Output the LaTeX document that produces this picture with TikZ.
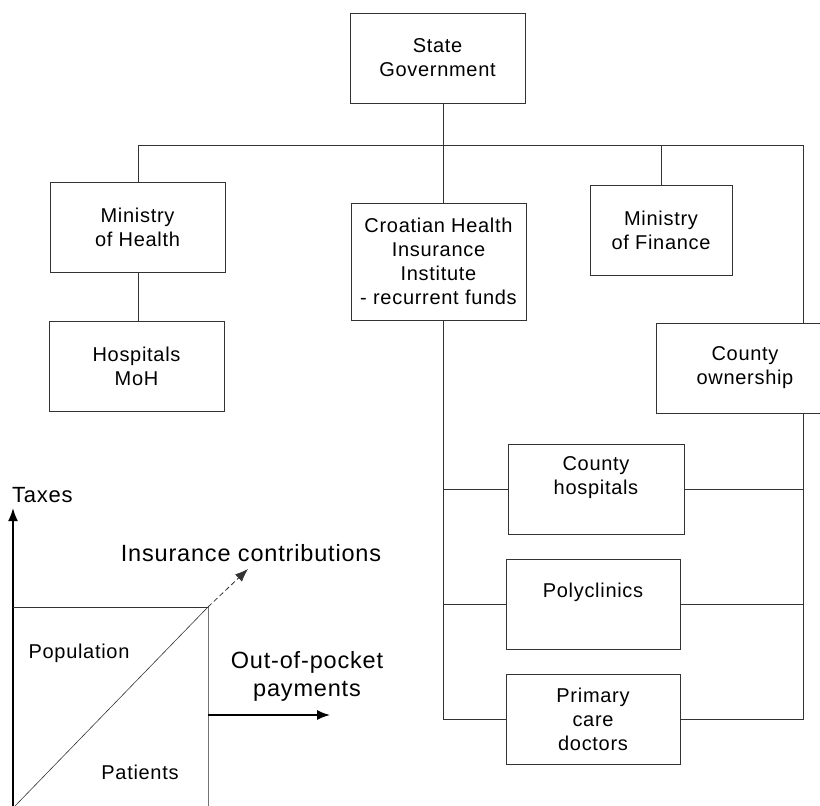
\documentclass[tikz,border=0pt]{standalone}
\usepackage{fontspec}
\setmainfont{Liberation Sans}[LetterSpace=3.5]
\usetikzlibrary{arrows.meta}

\tikzset{
  box/.style={draw=black!80, line width=0.8pt, minimum width=175pt, minimum height=90pt,
    align=center, inner sep=0pt, font=\fontsize{20}{24}\selectfont},
  lbl/.style={align=center, inner sep=0pt, font=\fontsize{20}{24}\selectfont},
  biglbl/.style={align=center, inner sep=0pt, font=\fontsize{23.5}{28}\selectfont},
  wire/.style={draw=black!80, line width=0.8pt},
}

\begin{document}
\begin{tikzpicture}[x=1pt, y=-1pt]
\useasboundingbox (0,0) rectangle (820,806);

\node[box] (gov) at (437.5,58) {State\\Government};
\node[box] (moh) at (137.5,227.5) {Ministry\\of Health};
\node[box] (hosp) at (136.5,366.5) {Hospitals\\MoH};
\node[box, minimum height=117pt] (chii) at (438.5,261.5) {Croatian Health\\Insurance\\Institute\\- recurrent funds};
\node[box, minimum width=142pt] (mof) at (661,230) {Ministry\\of Finance};
\node[box, minimum width=178pt] (cown) at (745,368) {County\\ownership};
\node[box, minimum width=176pt] (chosp) at (596,489) {};
\node[lbl, yshift=11pt] (chospT) at (chosp) {County\\hospitals};
\node[box, minimum width=174pt] (poly) at (593,604) {};
\node[lbl, yshift=12pt] (polyT) at (poly) {Polyclinics};
\node[box, minimum width=174pt] (pcd) at (593,719) {Primary\\care\\doctors};

\coordinate (busL) at (138,145);
\coordinate (busR) at (803,145);
\coordinate (trunk) at (443,145);

\draw[wire] (busL) -- (busR);
\draw[wire] (gov.south -| trunk) -- (chii.north -| trunk);
\draw[wire] (busL) -- (moh.north -| busL);
\draw[wire] (moh.south -| busL) -- (hosp.north -| busL);
\draw[wire] (mof.north) -- (mof.north |- busR);
\draw[wire] (busR) -- (cown.north -| busR);
\draw[wire] (cown.south -| busR) -- (busR |- pcd.east) -- (pcd.east);
\draw[wire] (chii.south -| trunk) -- (trunk |- pcd.west) -- (pcd.west);
\draw[wire] (chosp.west -| trunk) -- (chosp.west);
\draw[wire] (chosp.east) -- (chosp.east -| busR);
\draw[wire] (poly.west -| trunk) -- (poly.west);
\draw[wire] (poly.east) -- (poly.east -| busR);

\coordinate (origin) at (13,806);
\coordinate (axisTop) at (13,508);
\coordinate (corner) at (208,607);
\coordinate (insTip) at (248,569);
\coordinate (oopStart) at (208,715);
\coordinate (oopTip) at (330,715);

\draw[line width=1.8pt, -{Latex[length=13pt,width=10pt]}] (origin) -- (axisTop);
\draw[wire] (origin |- corner) -- (corner);
\draw[draw=black!55, line width=0.8pt] (corner) -- (corner |- origin);
\draw[wire, line width=0.6pt] ([xshift=2pt]origin) -- (corner);
\draw[wire, dash pattern=on 5pt off 3pt, -{Latex[length=13pt,width=10pt]}] (corner) -- (insTip);
\draw[line width=1.5pt, -{Latex[length=13pt,width=10pt]}] (oopStart) -- (oopTip);

\node[lbl, font=\fontsize{22}{26}\selectfont, anchor=west] (taxes) at (12,495) {Taxes};
\node[biglbl] (ins) at (251,553) {Insurance contributions};
\node[lbl] (pop) at (79,653) {Population};
\node[lbl] (pat) at (140,772) {Patients};
\node[biglbl] (oop) at (307,676) {Out-of-pocket\\payments};

\end{tikzpicture}
\end{document}
